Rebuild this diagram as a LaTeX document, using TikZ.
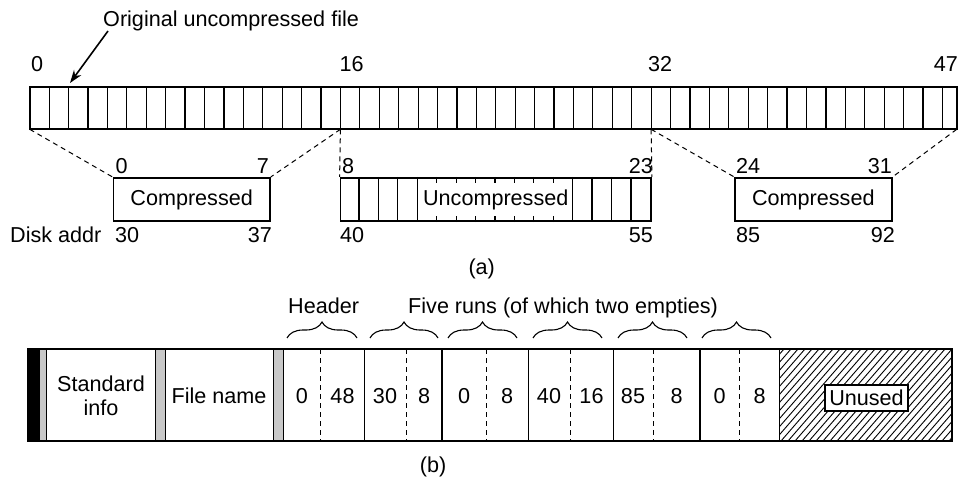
\documentclass[tikz,border=0pt]{standalone}
\usepackage{fontspec}
\setmainfont{Liberation Sans}
\usetikzlibrary{arrows.meta,decorations.pathreplacing,calc}
\definecolor{bargray}{HTML}{C8C8C8}
\begin{document}
\begin{tikzpicture}[x=1pt,y=-1pt,
  font=\fontsize{21.6}{24}\selectfont,
  outerline/.style={line width=1.6pt},
  cellline/.style={line width=1.2pt},
  dashline/.style={line width=1pt, dash pattern=on 5pt off 4pt},
  blk/.style={draw, line width=1.6pt, minimum height=43.5pt, inner sep=0pt},
  lbl/.style={inner sep=0pt},
  brc/.style={decorate, decoration={brace, amplitude=16pt}, line width=1.1pt},
  bar/.style={draw, line width=1pt, fill=bargray},
]
\useasboundingbox (0,0) rectangle (965,478);

% ---------- (a) original file ----------
\node[lbl, anchor=base west] (orig) at (103,26.5) {Original uncompressed file};
\coordinate (a0) at (108,31);
\coordinate (a1) at (70,83);
\draw[line width=1.6pt, -{Stealth[length=13pt,width=9pt]}] (a0) -- (a1);

\def\xo{29.7}
\def\cw{19.42}
\foreach \i in {1,...,47} \draw[cellline] (\xo+\i*\cw,87.3) -- (\xo+\i*\cw,129.3);
\draw[outerline] (\xo,87.3) rectangle (956.7,129.3);
\coordinate (b0) at (\xo,129.3);
\coordinate (b16) at (\xo+16*\cw,129.3);
\coordinate (b32) at (\xo+32*\cw,129.3);
\coordinate (b48) at (956.7,129.3);

\node[lbl, anchor=base west] (l0) at (31,72) {0};
\node[lbl, anchor=base west] (l16) at (339.5,72) {16};
\node[lbl, anchor=base west] (l32) at (648,72) {32};
\node[lbl, anchor=base east] (l47) at (958,72) {47};

% ---------- blocks ----------
\node[blk, minimum width=156.7pt] (c1) at (191.65,199.5) {Compressed};
\node[blk, minimum width=310.7pt] (u) at (495.75,199.5) {};
\node[blk, minimum width=156.7pt] (c2) at (813.35,199.5) {Compressed};

\foreach \i in {1,2,3,4,12,13,14,15}
  \draw[cellline] ($(u.north west)+(\i*\cw,0)$) -- ($(u.south west)+(\i*\cw,0)$);
\foreach \i in {5,...,11} {
  \draw[cellline] ($(u.north west)+(\i*\cw,0)$) -- ++(0,6.5);
  \draw[cellline] ($(u.south west)+(\i*\cw,0)$) -- ++(0,-6.5);
}
\node[lbl] (utxt) at (u.center) {Uncompressed};

\draw[dashline] (b0) -- (c1.north west);
\draw[dashline] (b16) -- (c1.north east);
\draw[dashline] (b16) -- (u.north west);
\draw[dashline] (b32) -- (u.north east);
\draw[dashline] (b32) -- (c2.north west);
\draw[dashline] (b48) -- (c2.north east);

\node[lbl, anchor=base west] (t0) at (115.5,174) {0};
\node[lbl, anchor=base east] (t7) at (269,174) {7};
\node[lbl, anchor=base west] (t8) at (342,174) {8};
\node[lbl, anchor=base east] (t23) at (653,174) {23};
\node[lbl, anchor=base west] (t24) at (736,174) {24};
\node[lbl, anchor=base east] (t31) at (892,174) {31};

\node[lbl, anchor=base west] (disk) at (10,242) {Disk addr};
\node[lbl, anchor=base west] (d30) at (115,242) {30};
\node[lbl, anchor=base east] (d37) at (272,242) {37};
\node[lbl, anchor=base west] (d40) at (340,242) {40};
\node[lbl, anchor=base east] (d55) at (653,242) {55};
\node[lbl, anchor=base west] (d85) at (736,242) {85};
\node[lbl, anchor=base east] (d92) at (895,242) {92};

\node[lbl] (capa) at (481.7,269) {(a)};

% ---------- (b) record ----------
\node[lbl, anchor=base west] (hdr) at (288,313) {Header};
\node[lbl, anchor=base west] (runs) at (408,313) {Five runs (of which two empties)};
\draw[brc] (287,338) -- (357,338);
\draw[brc] (370,338) -- (438,338);
\draw[brc] (448,338) -- (517,338);
\draw[brc] (533,338) -- (602,338);
\draw[brc] (618,338) -- (687,338);
\draw[brc] (702,338) -- (771,338);

% hatched unused area
\begin{scope}
  \clip (779.3,349) rectangle (951.7,441);
  \foreach \x in {690,697,...,960} \draw[line width=0.9pt] (\x,441) -- ++(80,-92);
\end{scope}

\fill[black] (27.3,349) rectangle (39.3,441);
\draw[bar] (39.3,349) rectangle (46.7,441);
\draw[bar] (155,349) rectangle (165.7,441);
\draw[bar] (273,349) rectangle (283,441);

\foreach \x in {364.3,442,528.3,613.3,700,779.3}
  \draw[cellline] (\x,349) -- (\x,441);
\foreach \x in {320.7,406,486,570,653.3,739.3}
  \draw[dashline] (\x,349) -- (\x,441);
\draw[outerline] (27.3,349) rectangle (951.7,441);

\node[lbl, align=center] (std) at (101,396) {Standard\\info};
\node[lbl] (fname) at (219,396) {File name};

\node[lbl] (h1) at (302,396) {0};
\node[lbl] (h2) at (342.5,396) {48};
\node[lbl] (r1a) at (385,396) {30};
\node[lbl] (r1b) at (424,396) {8};
\node[lbl] (r2a) at (464,396) {0};
\node[lbl] (r2b) at (507,396) {8};
\node[lbl] (r3a) at (549,396) {40};
\node[lbl] (r3b) at (591.5,396) {16};
\node[lbl] (r4a) at (633,396) {85};
\node[lbl] (r4b) at (676.5,396) {8};
\node[lbl] (r5a) at (719.5,396) {0};
\node[lbl] (r5b) at (759.5,396) {8};

\node[draw, fill=white, line width=1.6pt, inner xsep=4pt, inner ysep=5pt] (unused) at (866.5,398) {Unused};

\node[lbl] (capb) at (433,467) {(b)};
\end{tikzpicture}
\end{document}
